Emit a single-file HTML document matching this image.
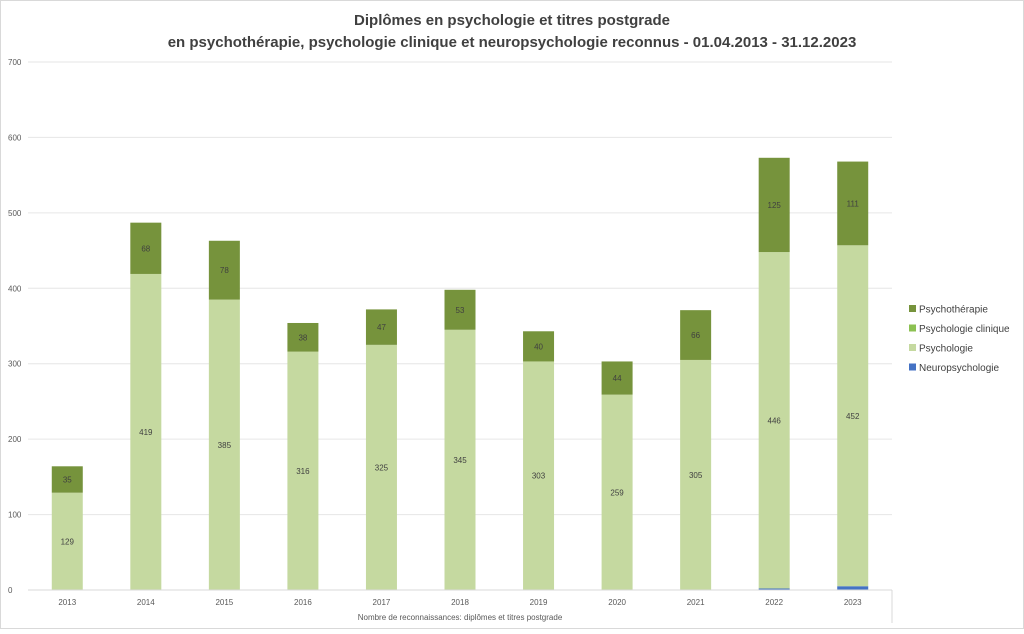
<!DOCTYPE html>
<html><head><meta charset="utf-8"><style>
html,body{margin:0;padding:0;background:#fff;}
body{width:1024px;height:629px;overflow:hidden;font-family:"Liberation Sans",sans-serif;}
</style></head><body>
<svg id="chart" width="1024" height="629" xmlns="http://www.w3.org/2000/svg" font-family="Liberation Sans, sans-serif">
<rect x="0.5" y="0.5" width="1023" height="628" fill="#fff" stroke="#d9d9d9"/>
<text x="512" y="25" text-anchor="middle" font-size="15" font-weight="bold" fill="#404040">Diplômes en psychologie et titres postgrade</text>
<text x="512" y="47" text-anchor="middle" font-size="15" font-weight="bold" fill="#404040">en psychothérapie, psychologie clinique et neuropsychologie reconnus - 01.04.2013 - 31.12.2023</text>
<g id="grid"></g><g id="bars"></g><g id="labels"></g>
<line x1="28" y1="590" x2="892" y2="590" stroke="#d9d9d9"/>
<line x1="892" y1="590" x2="892" y2="623" stroke="#d9d9d9"/>
<text x="460" y="620" text-anchor="middle" font-size="8" fill="#595959">Nombre de reconnaissances: diplômes et titres postgrade</text>
<g id="legend"></g>
</svg>
<script>
const years=["2013","2014","2015","2016","2017","2018","2019","2020","2021","2022","2023"];
const neuro=[0,0,0,0,0,0,0,0,0,2,5];
const psychologie=[129,419,385,316,325,345,303,259,305,446,452];
const clinique=[0,0,0,0,0,0,0,0,0,0,0];
const psychotherapie=[35,68,78,38,47,53,40,44,66,125,111];
const yTicks=[0,100,200,300,400,500,600,700];
const NS="http://www.w3.org/2000/svg";
const x0=28,x1=892,y0=590,yTop=62,yMax=700;
const y=v=>y0-(v/yMax)*(y0-yTop);
const step=(x1-x0)/years.length;
const xc=i=>x0+step*(i+0.5);
const bw=31;
function mk(tag,attrs,parent){const e=document.createElementNS(NS,tag);for(const k in attrs)e.setAttribute(k,attrs[k]);document.getElementById(parent).appendChild(e);return e;}
yTicks.forEach(t=>{
  if(t>0){const l=mk("line",{x1:x0,x2:x1,y1:y(t),y2:y(t),stroke:"#e6e6e6"},"grid");
  
  }
  const tx=mk("text",{x:8,y:y(t)+3,"font-size":"8",fill:"#595959"},"grid");tx.textContent=t;
  
  
});
const series=[["neuropsychologie",neuro,"#4472c4"],["psychologie",psychologie,"#c5d9a0"],["psychologie-clinique",clinique,"#8cc152"],["psychotherapie",psychotherapie,"#76933c"]];
years.forEach((yr,i)=>{
  let acc=0;
  series.forEach(([nm,arr,col])=>{
    const v=arr[i];if(v<=0)return;
    const r=mk("rect",{x:xc(i)-bw/2,y:y(acc+v),width:bw,height:y(acc)-y(acc+v),fill:col},"bars");
    
    
    if(nm==="psychologie"||nm==="psychotherapie"){
      const t=mk("text",{x:xc(i),y:(y(acc)+y(acc+v))/2+3,"text-anchor":"middle","font-size":"8",fill:"#404040"},"labels");
      t.textContent=v;
      
      
    }
    acc+=v;
  });
  const t=mk("text",{x:xc(i),y:605,"text-anchor":"middle","font-size":"8",fill:"#595959"},"labels");
  t.textContent=yr;
  
  
});
const leg=[["Psychothérapie","#76933c"],["Psychologie clinique","#8cc152"],["Psychologie","#c5d9a0"],["Neuropsychologie","#4472c4"]];
leg.forEach(([n,c],k)=>{
  const yy=310+k*19.5;
  const s=mk("rect",{x:909,y:yy-5,width:7,height:7,fill:c},"legend");
  
  
  const t=mk("text",{x:919,y:yy+2.5,"font-size":"10",fill:"#404040"},"legend");
  t.textContent=n;
  
  
});
</script>
</body></html>
